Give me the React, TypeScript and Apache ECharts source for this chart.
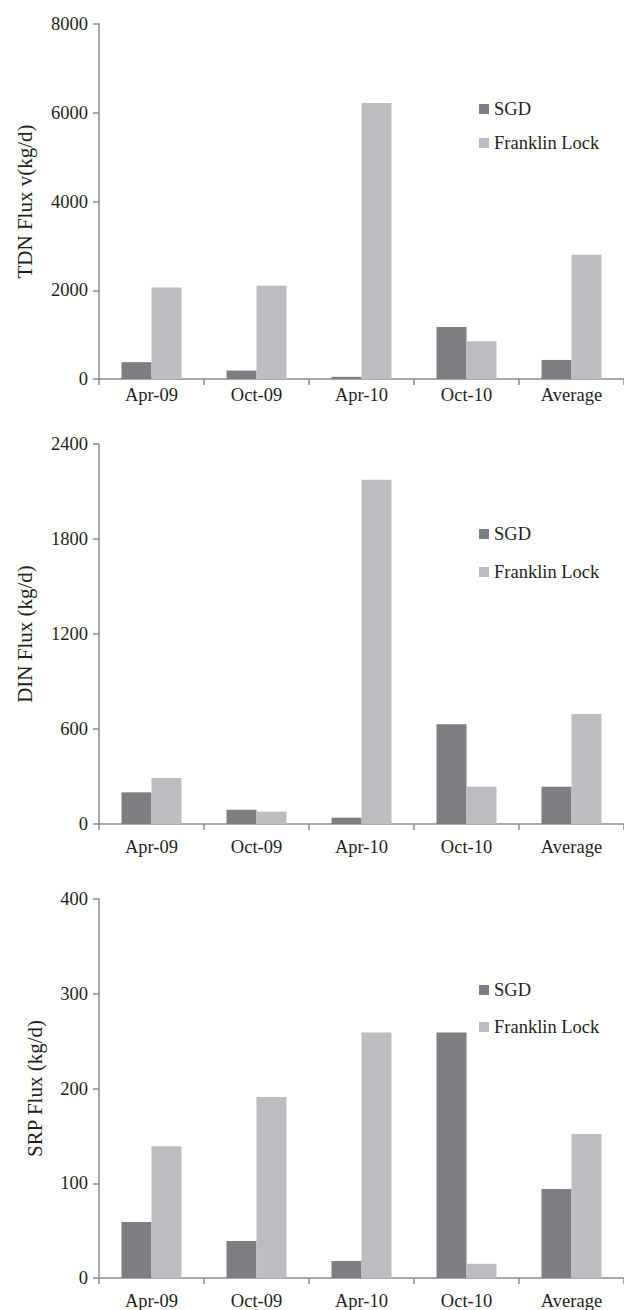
import React, { useEffect, useRef } from "react";
import * as echarts from "echarts";

const categories = ["Apr-09", "Oct-09", "Apr-10", "Oct-10", "Average"];
const seriesNames = ["SGD", "Franklin Lock"];

const tdnSGD = [380, 190, 50, 1170, 430];
const tdnFranklin = [2060, 2100, 6220, 850, 2800];

const dinSGD = [200, 90, 40, 630, 235];
const dinFranklin = [290, 78, 2175, 235, 695];

const srpSGD = [59, 39, 18, 259, 94];
const srpFranklin = [139, 191, 259, 15, 152];

const yNames = ["TDN Flux v(kg/d)", "DIN Flux (kg/d)", "SRP Flux (kg/d)"];
const yMax = [8000, 2400, 400];
const yInterval = [2000, 600, 100];

const FONT = "'Liberation Serif', 'Times New Roman', serif";
const TEXT = "#231f20";
const AXIS = "#8c8c8e";
const DARK = "#7d7e82";
const LIGHT = "#bcbdc1";

export default function App() {
  const ref = useRef<HTMLDivElement>(null);
  useEffect(() => {
    if (!ref.current) return;
    const chart = echarts.init(ref.current, null, { renderer: "svg" });
    const grids = [
      { left: 99, top: 24, width: 530, height: 355 },
      { left: 99, top: 444, width: 530, height: 380 },
      { left: 99, top: 899, width: 530, height: 383 },
    ];
    const xMargins = [6, 13, 13];
    const nameGaps = [64, 64, 54];
    const legendTops = [94, 519, 975];
    const legendGaps = [14, 18, 17];
    const data = [
      [tdnSGD, tdnFranklin],
      [dinSGD, dinFranklin],
      [srpSGD, srpFranklin],
    ];
    const option: any = {
      animation: false,
      textStyle: { fontFamily: FONT },
      grid: grids,
      legend: legendTops.map((t, i) => ({
        orient: "vertical",
        left: 474,
        top: t,
        itemWidth: 10,
        itemHeight: 10,
        itemGap: legendGaps[i],
        icon: "rect",
        data: seriesNames.map((n) => ({ name: n })),
        textStyle: { fontFamily: FONT, fontSize: 18.5, color: TEXT, lineHeight: 20 },
        selectedMode: false,
      })),
      xAxis: grids.map((_, i) => ({
        type: "category",
        gridIndex: i,
        data: categories,
        axisLine: { lineStyle: { color: AXIS, width: 1.5 } },
        axisTick: { show: true, length: 6, lineStyle: { color: AXIS, width: 1.5 } },
        axisLabel: {
          interval: 0,
          margin: xMargins[i],
          fontFamily: FONT,
          fontSize: 18.5,
          color: TEXT,
        },
        splitLine: { show: false },
      })),
      yAxis: grids.map((_, i) => ({
        type: "value",
        gridIndex: i,
        min: 0,
        max: yMax[i],
        interval: yInterval[i],
        name: yNames[i],
        nameLocation: "middle",
        nameGap: nameGaps[i],
        nameTextStyle: { fontFamily: FONT, fontSize: 21, color: TEXT },
        axisLine: { show: true, lineStyle: { color: AXIS, width: 1.5 } },
        axisTick: { show: true, length: 6, lineStyle: { color: AXIS, width: 1.5 } },
        axisLabel: {
          margin: 11,
          fontFamily: FONT,
          fontSize: 18.5,
          color: TEXT,
          formatter: (v: number) => String(v),
        },
        splitLine: { show: false },
      })),
      series: data.flatMap((pair, i) =>
        pair.map((vals, j) => ({
          type: "bar",
          name: seriesNames[j],
          xAxisIndex: i,
          yAxisIndex: i,
          data: vals,
          barWidth: 30,
          barGap: "0%",
          itemStyle: { color: j === 0 ? DARK : LIGHT },
        }))
      ),
    };
    chart.setOption(option);
    return () => chart.dispose();
  }, []);
  return (
    <div
      ref={ref}
      style={{ position: "absolute", left: 0, top: 0, width: 624, height: 1310, background: "#fff" }}
    />
  );
}
